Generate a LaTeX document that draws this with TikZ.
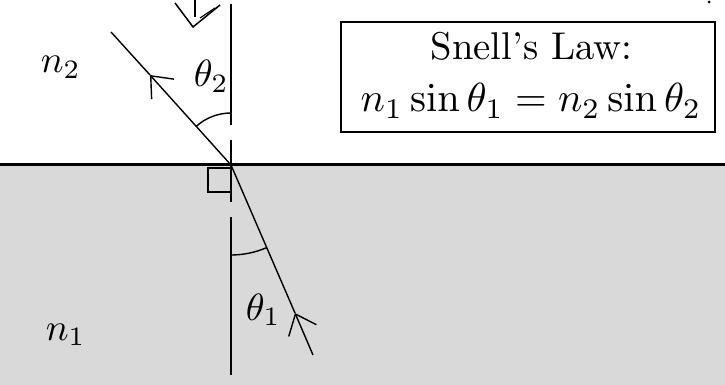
\documentclass[tikz,border=0pt]{standalone}
\usetikzlibrary{arrows.meta}
\begin{document}
\begin{tikzpicture}[x=1pt,y=-1pt,
  ray/.style={line width=1.4pt},
  lbl/.style={inner sep=0pt, scale=3.8, transform shape},
  barb/.style={-{Straight Barb[length=18pt,width=30pt]}}]
\useasboundingbox (0,0) rectangle (725,385);
% media
\fill[black!15] (0,166) rectangle (725,385);
\coordinate (L) at (0,164.5);
\coordinate (Rr) at (725,164.5);
\draw[line width=3.5pt] (L) -- (Rr);
\coordinate (O) at (231,165);
% normal
\coordinate (Ntop) at (231,4);
\coordinate (Nbot) at (231,375);
\draw[line width=1.8pt, dash pattern=on 121pt off 15pt on 62pt off 15pt on 200pt] (Ntop) -- (Nbot);
% right-angle square
\coordinate (S1) at (208,168);
\coordinate (S2) at (231,192);
\draw[line width=1.8pt] (S1) rectangle (S2);
% incident ray
\coordinate (I0) at (313,355);
\coordinate (I1) at (295,313);
\draw[ray, barb] (I0) -- (I1);
\draw[ray] (I1) -- (O);
% refracted ray
\coordinate (R1) at (150,75);
\coordinate (R0) at (111,32);
\draw[ray, barb] (O) -- (R1);
\draw[ray] (R1) -- (R0);
% angle arcs
\draw[ray] (O) ++(0,-52) arc[start angle=270, end angle=227.9, radius=52];
\draw[ray] (O) ++(0,90) arc[start angle=90, end angle=66.7, radius=90];
% labels
\node[lbl, anchor=base west] (n2) at (40,73) {$n_2$};
\node[lbl, anchor=base west] (n1) at (45,340) {$n_1$};
\node[lbl, anchor=base west] (t2) at (193,87) {$\theta_2$};
\node[lbl, anchor=base west] (t1) at (245,320) {$\theta_1$};
% Snell's law box
\node[draw, line width=1.3pt, fill=white, minimum width=374pt, minimum height=110pt, inner sep=0pt] (box) at (528,77) {};
\node[inner sep=0pt, anchor=base, scale=3.87, transform shape] (law) at (531.5,60) {Snell's Law:};
\node[inner sep=0pt, anchor=base, scale=4.06, transform shape] (eq) at (531,112) {$n_1\sin\theta_1 = n_2\sin\theta_2$};
% viewer mark at top
\coordinate (V) at (193,27);
\coordinate (Va) at (175,3);
\coordinate (Vb) at (220,5);
\coordinate (Vs) at (195,0);
\coordinate (Ve) at (195,17);
\coordinate (Fa) at (200,18);
\coordinate (Fb) at (215,8);
\draw[line width=1.5pt] (Va) -- (V) -- (Vb);
\draw[line width=1.5pt] (Vs) -- (Ve);
\draw[line width=1.2pt] (Fa) -- (Fb);
\fill (709,2) circle[radius=1.5pt];
\end{tikzpicture}
\end{document}
